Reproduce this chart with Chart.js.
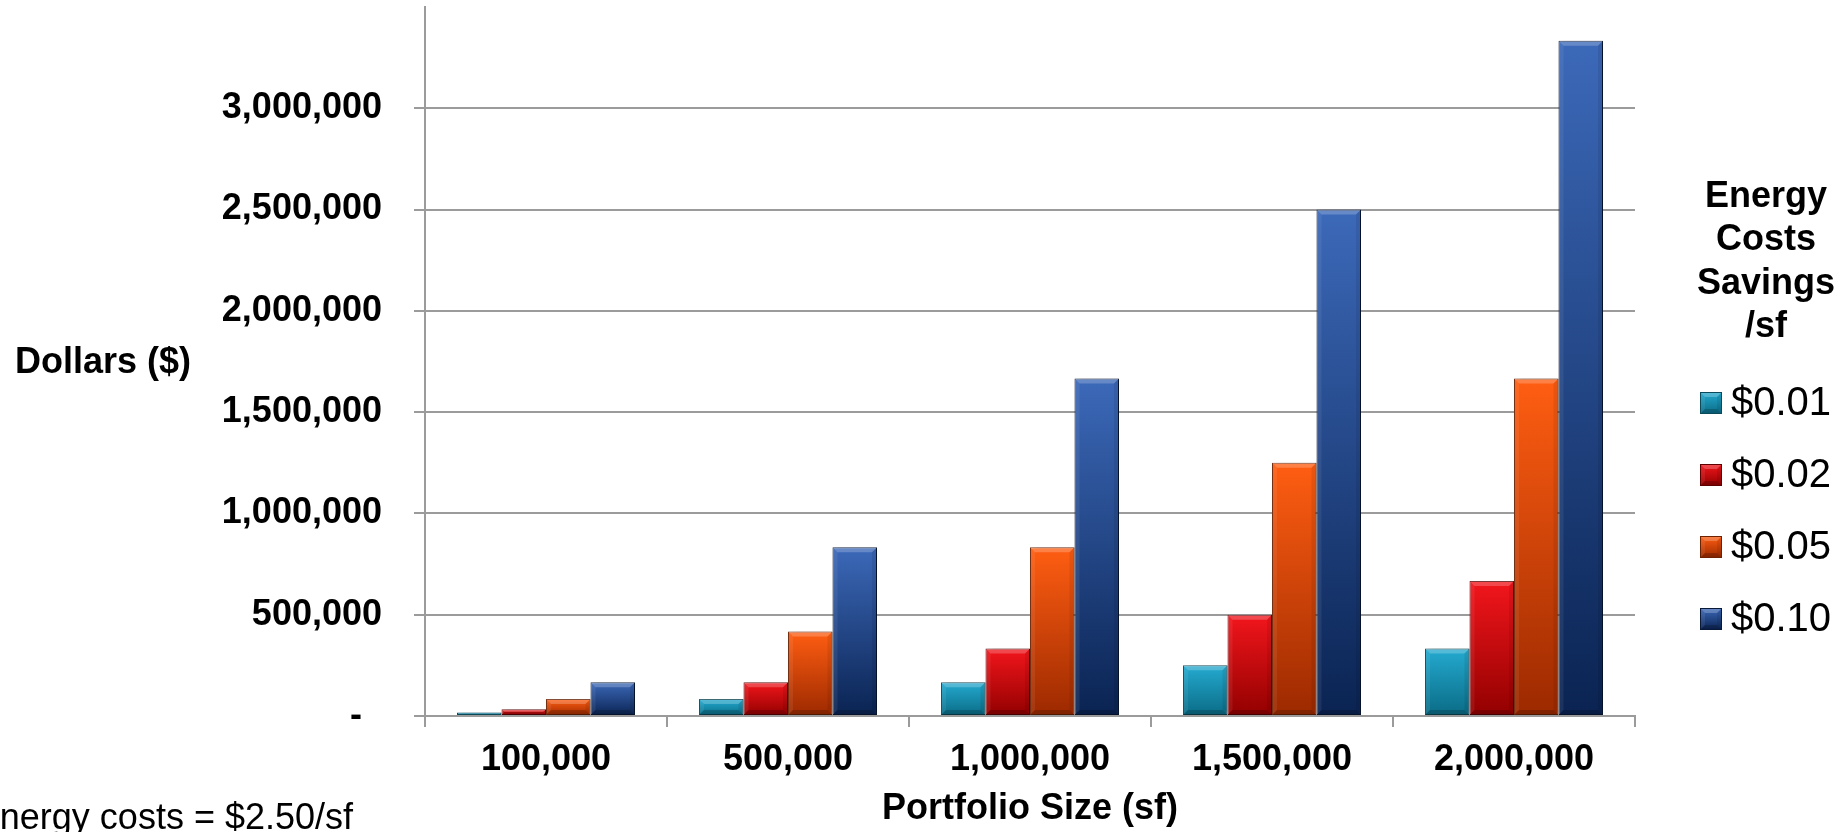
<!DOCTYPE html>
<html>
<head>
<meta charset="utf-8">
<script src="https://cdn.jsdelivr.net/npm/chart.js@4.4.1/dist/chart.umd.min.js"></script>
<style>
  html, body { margin: 0; padding: 0; background: #ffffff; overflow: hidden; }
  #wrap { width: 1845px; height: 832px; position: relative; }
</style>
</head>
<body>
<div id="wrap"><canvas id="chart" width="1845" height="832"></canvas></div>
<script>
// Portfolio sizes (square feet) on the category axis
const portfolioSizes = ['100,000', '500,000', '1,000,000', '1,500,000', '2,000,000'];

// Energy cost savings per square foot (one series each)
const savingsLabels = ['$0.01', '$0.02', '$0.05', '$0.10'];

// Dollar values for each savings level, by portfolio size
const savings001 = [16667, 83333, 166667, 250000, 333333];
const savings002 = [33333, 166667, 333333, 500000, 666667];
const savings005 = [83333, 416667, 833333, 1250000, 1666667];
const savings010 = [166667, 833333, 1666667, 2500000, 3333333];

// Value axis ticks
const yTickValues = [0, 500000, 1000000, 1500000, 2000000, 2500000, 3000000];
const yMax = 3500000;

const legendTitleLines = ['Energy', 'Costs', 'Savings', '/sf'];
const footNote = 'Energy costs = $2.50/sf';
const yAxisTitle = 'Dollars ($)';
const xAxisTitle = 'Portfolio Size (sf)';

const FONT = "'Liberation Sans', Arial, Helvetica, sans-serif";
Chart.defaults.font.family = FONT;
Chart.defaults.color = '#000000';

// Fill colours per series: lighter at the top, darker at the base
const palettes = [
  { top: '#24AAD0', bottom: '#0A6B85', border: '#0B4A5A' },
  { top: '#F2161C', bottom: '#920000', border: '#5E0000' },
  { top: '#FF5E12', bottom: '#9C2900', border: '#6E2200' },
  { top: '#3C69B9', bottom: '#0A2352', border: '#08193A' }
];

const seriesValues = [savings001, savings002, savings005, savings010];

function barGradient(ctx, top, bottom, pal) {
  const g = ctx.createLinearGradient(0, top, 0, bottom);
  g.addColorStop(0, pal.top);
  g.addColorStop(1, pal.bottom);
  return g;
}

const datasets = seriesValues.map((vals, i) => ({
  label: savingsLabels[i],
  data: vals,
  borderColor: palettes[i].border,
  borderWidth: 1,
  borderSkipped: false,
  backgroundColor: (c) => {
    const pal = palettes[i];
    if (c.type !== 'data' || !c.chart.scales || !c.chart.scales.y) return pal.top;
    const ys = c.chart.scales.y;
    const v = c.parsed ? c.parsed.y : c.raw;
    const top = ys.getPixelForValue(v);
    const base = ys.getPixelForValue(0);
    if (!isFinite(top) || !isFinite(base) || base - top < 0.5) return pal.bottom;
    return barGradient(c.chart.ctx, top, base, pal);
  }
}));

function fillPoly(ctx, pts, color) {
  ctx.beginPath();
  ctx.moveTo(pts[0][0], pts[0][1]);
  for (let k = 1; k < pts.length; k++) ctx.lineTo(pts[k][0], pts[k][1]);
  ctx.closePath();
  ctx.fillStyle = color;
  ctx.fill();
}

function drawBevel(ctx, l, t, r, b) {
  const h = b - t, w = r - l;
  if (h < 3) return;
  const d = Math.min(5, h / 2, w / 2);
  fillPoly(ctx, [[l, t], [r, t], [r - d, t + d], [l + d, t + d]], 'rgba(255,255,255,0.22)');
  fillPoly(ctx, [[l, t], [l + d, t + d], [l + d, b - d], [l, b]], 'rgba(255,255,255,0.07)');
  fillPoly(ctx, [[r, t], [r, b], [r - d, b - d], [r - d, t + d]], 'rgba(0,0,0,0.08)');
  fillPoly(ctx, [[l, b], [l + d, b - d], [r - d, b - d], [r, b]], 'rgba(0,0,0,0.18)');
}

// Soft shadow behind the bars and a bevelled edge on each of them
const barEffects = {
  id: 'barEffects',
  beforeDatasetsDraw(chart) {
    const ctx = chart.ctx;
    ctx.save();
    ctx.shadowColor = 'rgba(0,0,0,0.32)';
    ctx.shadowBlur = 6;
    ctx.shadowOffsetX = 3;
    ctx.shadowOffsetY = 0;
  },
  afterDatasetsDraw(chart) {
    const ctx = chart.ctx;
    ctx.restore();
    ctx.save();
    chart.data.datasets.forEach((ds, di) => {
      const meta = chart.getDatasetMeta(di);
      meta.data.forEach(el => {
        const p = el.getProps(['x', 'y', 'base', 'width'], true);
        drawBevel(ctx, p.x - p.width / 2, p.y, p.x + p.width / 2, p.base);
      });
    });
    ctx.restore();
  }
};

// Horizontal value-axis title, legend block and foot note
const annotations = {
  id: 'annotations',
  afterDraw(chart) {
    const ctx = chart.ctx;
    const area = chart.chartArea;
    ctx.save();
    ctx.fillStyle = '#000000';

    // value axis title, written horizontally at the left
    ctx.font = 'bold 36px ' + FONT;
    ctx.textAlign = 'center';
    ctx.textBaseline = 'middle';
    ctx.fillText(yAxisTitle, 103, (area.top + area.bottom) / 2 + 2);

    // legend title
    ctx.font = 'bold 36px ' + FONT;
    legendTitleLines.forEach((line, k) => {
      ctx.fillText(line, 1766, 197 + k * 43.5);
    });

    // legend entries
    chart.data.datasets.forEach((ds, i) => {
      const cy = 403 + i * 72;
      const sx = 1700, sy = cy - 11, s = 22;
      const pal = palettes[i];
      ctx.fillStyle = barGradient(ctx, sy, sy + s, pal);
      ctx.fillRect(sx, sy, s, s);
      drawBevel(ctx, sx, sy, sx + s, sy + s);
      ctx.strokeStyle = pal.border;
      ctx.lineWidth = 1;
      ctx.strokeRect(sx + 0.5, sy + 0.5, s - 1, s - 1);
      ctx.fillStyle = '#000000';
      ctx.font = '40px ' + FONT;
      ctx.textAlign = 'left';
      ctx.textBaseline = 'middle';
      ctx.fillText(ds.label, 1731, cy + 1);
    });

    // foot note at the lower left
    ctx.font = '36px ' + FONT;
    ctx.textAlign = 'right';
    ctx.textBaseline = 'alphabetic';
    ctx.fillText(footNote, 353, 829);
    ctx.restore();
  }
};

const GRID = '#9b9b9b';

new Chart(document.getElementById('chart'), {
  type: 'bar',
  data: { labels: portfolioSizes, datasets },
  plugins: [barEffects, annotations],
  options: {
    responsive: false,
    animation: false,
    devicePixelRatio: 1,
    layout: { autoPadding: false, padding: { left: 0, top: 7, right: 210, bottom: 0 } },
    datasets: { bar: { categoryPercentage: 0.7355, barPercentage: 1.0 } },
    plugins: {
      legend: { display: false },
      tooltip: { enabled: false },
      title: { display: false }
    },
    scales: {
      x: {
        offset: true,
        grid: {
          offset: true,
          drawOnChartArea: false,
          drawTicks: true,
          tickLength: 11,
          color: GRID,
          lineWidth: 2
        },
        border: { display: true, color: GRID, width: 2 },
        ticks: {
          padding: 11,
          font: { size: 36, weight: 'bold' },
          color: '#000000',
          maxRotation: 0,
          autoSkip: false
        },
        title: {
          display: true,
          text: xAxisTitle,
          font: { size: 36, weight: 'bold' },
          color: '#000000',
          padding: { top: 0, bottom: 1 }
        },
        afterFit(s) {
          s.height = 116;
          s.paddingLeft = 0;
          s.paddingRight = 0;
        }
      },
      y: {
        min: 0,
        max: yMax,
        afterBuildTicks(axis) {
          axis.ticks = yTickValues.map(v => ({ value: v }));
        },
        grid: {
          color: GRID,
          lineWidth: 2,
          drawTicks: true,
          tickLength: 11
        },
        border: { display: true, color: GRID, width: 2 },
        ticks: {
          padding: 32,
          font: { size: 36, weight: 'bold' },
          color: '#000000',
          callback: (v) => v === 0 ? '-  ' : Number(v).toLocaleString('en-US')
        },
        afterFit(s) {
          s.width = 425;
          s.paddingTop = 0;
          s.paddingBottom = 0;
        }
      }
    }
  }
});
</script>
</body>
</html>
